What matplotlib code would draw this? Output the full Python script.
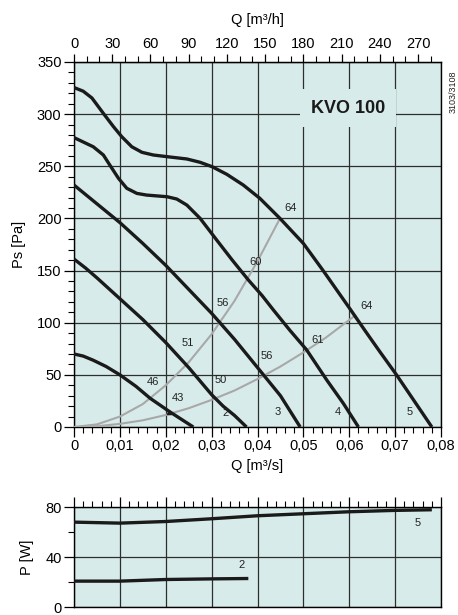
import matplotlib
matplotlib.use("Agg")
import matplotlib.pyplot as plt
from matplotlib.ticker import MultipleLocator, FixedLocator

plt.rcParams['font.family'] = ['Liberation Sans', 'DejaVu Sans']

# Fan curves: Q [m3/s] against static pressure Ps [Pa]
q_a = [0, 0.002, 0.0042, 0.007, 0.01, 0.0135, 0.0166, 0.0209, 0.026]
ps_a = [70, 68, 64, 58, 50, 39, 27.5, 14.5, 0]

q_b = [0, 0.0025, 0.005, 0.0075, 0.01, 0.0125, 0.015, 0.0175, 0.02,
       0.0225, 0.025, 0.0275, 0.03, 0.0325, 0.035, 0.0376]
ps_b = [161, 152.5, 143, 133, 123, 113, 103, 92, 81,
        69, 57, 44, 31, 20, 11, 0]

q_c = [0, 0.005, 0.01, 0.015, 0.02, 0.025, 0.03, 0.035, 0.04, 0.045, 0.0493]
ps_c = [232, 214, 196, 176, 155, 132, 109, 84, 57, 30, 0]

q_d = [0, 0.0042, 0.0064, 0.0078, 0.0097, 0.0115, 0.0137, 0.0158, 0.0203,
       0.0224, 0.0246, 0.0275, 0.0311, 0.0345, 0.038, 0.041, 0.0435, 0.047,
       0.0507, 0.0551, 0.0587, 0.062]
ps_d = [277.5, 268.7, 260.8, 251.2, 238.4, 228.9, 224, 222.4, 220.8,
        218.6, 212.8, 200, 179.3, 160, 141, 126, 112, 93,
        74, 45, 22.7, 0]

q_e = [0, 0.002, 0.0039, 0.0064, 0.0086, 0.0104, 0.0126, 0.0148, 0.0173, 0.0203,
       0.0246, 0.0275, 0.0301, 0.0333, 0.0369, 0.0405, 0.0449, 0.05, 0.0543,
       0.0602, 0.0635, 0.0667, 0.0703, 0.074, 0.078]
ps_e = [325.5, 322, 315.5, 300.7, 288, 278.4, 268.7, 263.4, 260.8, 259.2,
        257, 253.8, 249.6, 242.3, 232, 219.3, 200, 176, 150,
        113, 92, 72, 50, 26, 0]

fan_curves = [(q_a, ps_a), (q_b, ps_b), (q_c, ps_c), (q_d, ps_d), (q_e, ps_e)]

# System curves (grey)
q_steep = [0, 0.005, 0.01, 0.015, 0.02, 0.025, 0.03, 0.035, 0.04, 0.0449]
ps_steep = [0, 2.5, 10, 22, 40, 62, 89, 121, 159, 200]
q_flat = [0, 0.005, 0.01, 0.015, 0.02, 0.025, 0.03, 0.035, 0.04, 0.045, 0.05, 0.055, 0.0613]
ps_flat = [0, 0.7, 3, 6.4, 11.5, 18, 26, 35, 46, 58, 71.5, 86, 107]

# Sound levels along the system curves
noise_steep = ["46", "51", "56", "60", "64"]
noise_flat = ["43", "50", "56", "61", "64"]
speed_labels = ["2", "3", "4", "5"]

# Power curves: Q [m3/s] against P [W]
q_p2 = [0, 0.01, 0.02, 0.03, 0.038]
p_2 = [20.7, 20.7, 22, 22.5, 22.8]
q_p5 = [0, 0.01, 0.02, 0.03, 0.04, 0.05, 0.06, 0.07, 0.078]
p_5 = [67.9, 67.1, 68.4, 70.6, 73, 74.6, 76.2, 77.3, 77.8]

q_ticks = [0, 0.01, 0.02, 0.03, 0.04, 0.05, 0.06, 0.07, 0.08]
q_tick_labels = ["0", "0,01", "0,02", "0,03", "0,04", "0,05", "0,06", "0,07", "0,08"]
qh_ticks = [0, 30, 60, 90, 120, 150, 180, 210, 240, 270]
ps_ticks = [0, 50, 100, 150, 200, 250, 300, 350]
p_ticks = [0, 40, 80]

bg = '#d7ecea'
grid_col = '#2e2e2e'
curve_col = '#1a1a1a'
grey_col = '#a8a8a8'
fs_tick = 10.5
fs_small = 8

fig = plt.figure(figsize=(4.58, 6.15), dpi=100)
ax = fig.add_axes([0.1616, 0.3057, 0.8013, 0.5935])
axp = fig.add_axes([0.1616, 0.0130, 0.8013, 0.1626])

# ---- pressure chart ----
ax.set_facecolor(bg)
ax.set_xlim(0, 0.08)
ax.set_ylim(0, 350)
ax.set_xticks(q_ticks)
ax.set_xticklabels(q_tick_labels)
ax.set_yticks(ps_ticks)
ax.xaxis.set_minor_locator(MultipleLocator(0.002))
ax.yaxis.set_minor_locator(MultipleLocator(10))
ax.tick_params(which='major', length=7, width=0.9, labelsize=fs_tick, pad=2)
ax.tick_params(which='minor', length=4, width=0.8)
ax.grid(True, which='major', color=grid_col, lw=0.9)
for s in ax.spines.values():
    s.set_linewidth(1)
ax.set_xlabel("Q [m³/s]", fontsize=fs_tick, labelpad=4)
ax.set_ylabel("Ps [Pa]", fontsize=fs_tick)
ax.yaxis.set_label_coords(-0.132, 0.5)

top = ax.secondary_xaxis('top', functions=(lambda q: q * 3600, lambda v: v / 3600))
top.set_xticks(qh_ticks)
top.xaxis.set_minor_locator(MultipleLocator(10))
top.tick_params(which='major', length=6, width=0.9, labelsize=fs_tick, pad=2)
top.tick_params(which='minor', length=4, width=0.8)
top.set_xlabel("Q [m³/h]", fontsize=fs_tick, labelpad=9)

for q, ps in fan_curves:
    ax.plot(q, ps, color=curve_col, lw=2.4, solid_capstyle='butt', solid_joinstyle='round', zorder=4)
ax.plot(q_steep, ps_steep, color=grey_col, lw=1.5, zorder=3)
ax.plot(q_flat, ps_flat, color=grey_col, lw=1.5, zorder=3)

steep_pos = [(0.0173, 43.5), (0.0248, 81), (0.0324, 119), (0.0395, 158.5), (0.0471, 210)]
flat_pos = [(0.0227, 27.5), (0.032, 45), (0.042, 68), (0.053, 83.4), (0.0637, 116.3)]
speed_pos = [(0.0331, 13.7), (0.0443, 14.4), (0.0574, 14.4), (0.0732, 14.4)]
for txt, (x, y) in zip(noise_steep + noise_flat + speed_labels, steep_pos + flat_pos + speed_pos):
    ax.text(x, y, txt, fontsize=fs_small, ha='center', va='center', color='#222222', zorder=5)
ax.plot([0.0206], [14], marker='^', ms=3, color=curve_col, zorder=5)

ax.text(0.0597, 305.8, "KVO 100", fontsize=13, fontweight='bold', ha='center', va='center',
        color='#1a1a1a', zorder=6,
        bbox=dict(boxstyle='square,pad=0.6', facecolor=bg, edgecolor='none'))

fig.text(0.99, 0.851, "3103/3108", fontsize=6.5, rotation=90, ha='center', va='center', color='#222222')

# ---- power chart ----
axp.set_facecolor(bg)
axp.set_xlim(0, 0.08)
axp.set_ylim(0, 80)
axp.set_xticks(q_ticks)
axp.xaxis.set_minor_locator(MultipleLocator(0.002))
axp.set_yticks(p_ticks)
axp.yaxis.set_minor_locator(FixedLocator([20, 60]))
axp.tick_params(axis='x', which='both', top=True, bottom=False, labeltop=False, labelbottom=False)
axp.tick_params(which='major', length=7, width=0.9, labelsize=fs_tick, pad=2)
axp.tick_params(which='minor', length=4, width=0.8)
axp.grid(True, which='major', color=grid_col, lw=0.9)
for s in axp.spines.values():
    s.set_linewidth(1)
axp.set_ylabel("P [W]", fontsize=fs_tick)
axp.yaxis.set_label_coords(-0.108, 0.5)

axp.plot(q_p2, p_2, color=curve_col, lw=2.4, solid_capstyle='butt', zorder=4)
axp.plot(q_p5, p_5, color=curve_col, lw=2.4, solid_capstyle='butt', zorder=4)
axp.text(0.0365, 33.6, "2", fontsize=fs_small, ha='center', va='center', color='#222222')
axp.text(0.075, 67.6, "5", fontsize=fs_small, ha='center', va='center', color='#222222')

fig.savefig("out.png", dpi=100)
